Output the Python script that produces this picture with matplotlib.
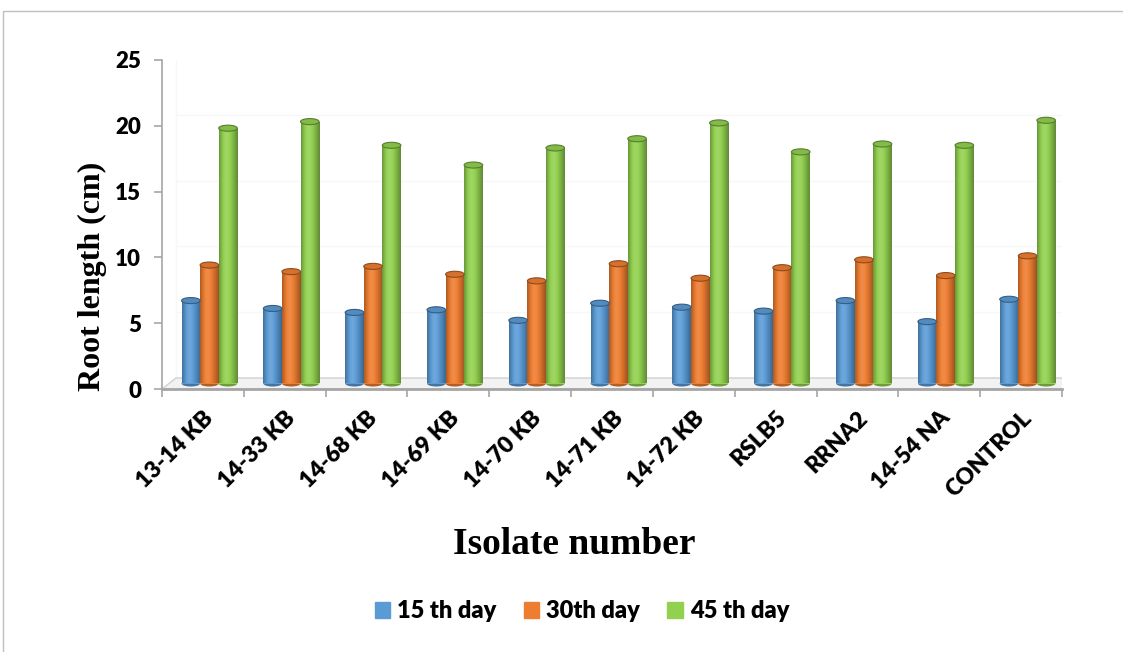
import numpy as np
import matplotlib
matplotlib.use("Agg")
import matplotlib.pyplot as plt
from matplotlib.transforms import ScaledTranslation
from matplotlib.patches import Ellipse, Polygon
from matplotlib.lines import Line2D
from matplotlib.colors import to_rgb

isolates = ["13-14 KB", "14-33 KB", "14-68 KB", "14-69 KB", "14-70 KB", "14-71 KB",
            "14-72 KB", "RSLB5", "RRNA2", "14-54 NA", "CONTROL"]
day15 = [6.3, 5.7, 5.4, 5.6, 4.8, 6.1, 5.8, 5.5, 6.3, 4.7, 6.4]
day30 = [9.0, 8.5, 8.9, 8.3, 7.8, 9.1, 8.0, 8.8, 9.4, 8.2, 9.7]
day45 = [19.4, 19.9, 18.1, 16.6, 17.9, 18.6, 19.8, 17.6, 18.2, 18.1, 20.0]
series_names = ["15 th day", "30th day", "45 th day"]
series_colors = ["#5B9BD5", "#ED7D31", "#92D050"]
yticks = [0, 5, 10, 15, 20, 25]

fig = plt.figure(figsize=(11.23, 6.52), dpi=100)
ax = fig.add_axes([162 / 1123, 1 - 389 / 652, 900 / 1123, 329 / 652])

# chart area border (top and left edges only)
fig.add_artist(Line2D([3 / 1123, 3 / 1123, 1], [0, 1 - 11 / 652, 1 - 11 / 652],
                      transform=fig.transFigure, color="#BFBFBF", lw=1))

x = np.arange(len(isolates))
ax.set_xlim(-0.5, len(isolates) - 0.5)
ax.set_ylim(0, 25)

# depth shifts for the fake 3D look
mid = ax.transData + ScaledTranslation(0.065, 0.055, fig.dpi_scale_trans)
back = ax.transData + ScaledTranslation(0.14, 0.11, fig.dpi_scale_trans)

# floor slab
floor = Polygon([(-0.5, 0), (10.5, 0), (10.5 + 0.171, 0.836), (-0.5 + 0.171, 0.836)],
                closed=True, facecolor="#F2F2F2", edgecolor="#D0D0D0", lw=1, zorder=1)
ax.add_patch(floor)

# faint back wall gridlines
for t in yticks[1:]:
    ax.plot([-0.5, 10.5], [t, t], color="#F7F7F7", lw=1, transform=back, zorder=0.5)
ax.plot([-0.5, -0.5], [0, 25], color="#F7F7F7", lw=1, transform=back, zorder=0.5)

w = 0.227
cap_h = 0.46


def shade(c, f):
    c = np.array(to_rgb(c))
    return np.clip(c * f, 0, 1) if f < 1 else c + (1 - c) * (f - 1)


for i, (vals, col) in enumerate(zip([day15, day30, day45], series_colors)):
    xs = x + (i - 1) * w
    bars = ax.bar(xs, vals, w, color=col, transform=mid, zorder=3, label=series_names[i])
    # cylinder shading across each bar
    prof = np.array([0.72, 0.85, 0.97, 1.08, 1.12, 1.08, 1.0, 0.92, 0.84, 0.75, 0.66])
    grad = np.array([[shade(col, f) for f in np.interp(np.linspace(0, 10, 60), np.arange(11), prof)]])
    for xc, v, b in zip(xs, vals, bars):
        ax.add_patch(Ellipse((xc, 0), w, cap_h, transform=mid, facecolor=shade(col, 0.75),
                             edgecolor="none", zorder=2.9))
        im = ax.imshow(grad, extent=(xc - w / 2, xc + w / 2, 0, v), transform=mid,
                       aspect="auto", zorder=3.1, interpolation="bilinear")
        im.set_clip_path(b)
        ax.add_patch(Ellipse((xc, v), w, cap_h, transform=mid, facecolor=shade(col, 0.9),
                             edgecolor=shade(col, 0.6), lw=0.8, zorder=3.2))

ax.set_xlim(-0.5, len(isolates) - 0.5)
ax.set_ylim(0, 25)

for s in ["top", "right"]:
    ax.spines[s].set_visible(False)
ax.spines["left"].set_color("#A6A6A6")
ax.spines["bottom"].set_color("#A6A6A6")
ax.spines["left"].set_linewidth(1.2)
ax.spines["bottom"].set_linewidth(2)
ax.patch.set_visible(False)

tick_font = {"fontfamily": "Lato", "fontweight": "heavy"}

ax.set_yticks(yticks)
ax.set_yticklabels([str(t) for t in yticks], fontsize=16, **tick_font)
ax.tick_params(axis="y", length=6, color="#A6A6A6", width=1.2, pad=9)

ax.set_xticks(x)
ax.set_xticklabels(isolates, rotation=45, ha="right", rotation_mode="anchor",
                   fontsize=16.5, **tick_font)
ax.tick_params(axis="x", which="major", length=0, pad=13)
ax.set_xticks(np.arange(-0.5, len(isolates)), minor=True)
ax.tick_params(axis="x", which="minor", length=6, color="#A6A6A6", width=1.2)

fig.text(92 / 1123, 1 - 276 / 652, "Root length (cm)", rotation=90, ha="center", va="center",
         fontfamily="Liberation Serif", fontweight="bold", fontsize=23)
fig.text(574 / 1123, 1 - 545 / 652, "Isolate number", ha="center", va="center",
         fontfamily="Liberation Serif", fontweight="bold", fontsize=27)

handles = [plt.Rectangle((0, 0), 1, 1, color=c) for c in series_colors]
fig.legend(handles, series_names, loc="center", bbox_to_anchor=(582 / 1123, 1 - 611 / 652),
           ncol=3, frameon=False, prop={"family": "Lato", "weight": "heavy", "size": 17},
           handlelength=0.65, handleheight=0.65, handletextpad=0.3, columnspacing=1.15)

fig.savefig("out.png", dpi=100)
